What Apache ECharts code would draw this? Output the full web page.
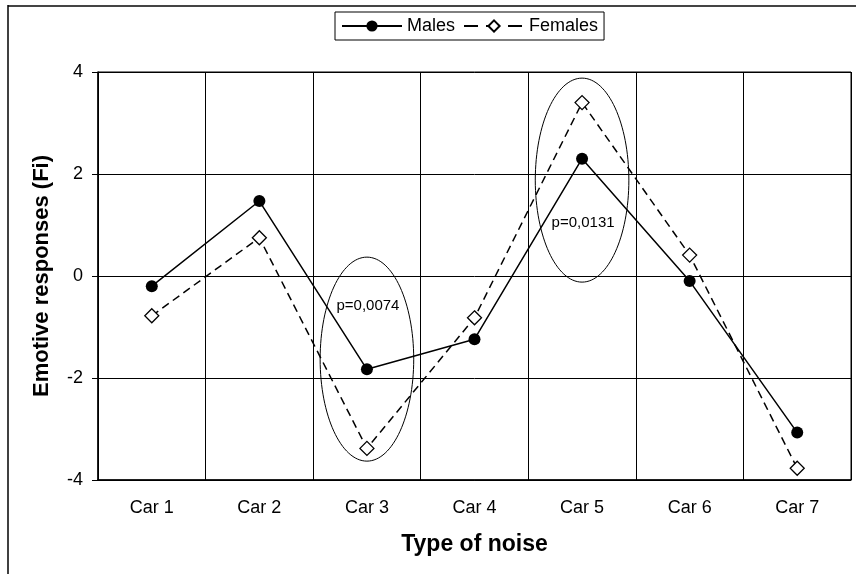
<!DOCTYPE html>
<html>
<head>
<meta charset="utf-8">
<script src="https://cdn.jsdelivr.net/npm/echarts@6/dist/echarts.min.js"></script>
<style>
  html, body { margin: 0; padding: 0; background: #fff; }
  #chart { width: 856px; height: 574px; }
</style>
</head>
<body>
<div id="chart"></div>
<script>
const categories = ["Car 1", "Car 2", "Car 3", "Car 4", "Car 5", "Car 6", "Car 7"];
const males = [-0.2, 1.47, -1.83, -1.24, 2.3, -0.1, -3.07];
const females = [-0.78, 0.75, -3.38, -0.82, 3.4, 0.41, -3.77];

// ellipses marking the significant differences
const ellipseCars = ["Car 3", "Car 5"];
const ellipseMid = [-1.63, 1.88];
const ellipseHalf = [2.0, 2.0];
const pLabels = ["p=0,0074", "p=0,0131"];
const pLabelY = [-0.59, 1.04];

const font = "Liberation Sans, Arial, sans-serif";
const chart = echarts.init(document.getElementById("chart"));

chart.setOption({
  animation: false,
  textStyle: { fontFamily: font },
  graphic: [
    // outer frame (top + left edge)
    { type: "line", shape: { x1: 8, y1: 6, x2: 856, y2: 6 }, style: { stroke: "#444", lineWidth: 2 } },
    { type: "line", shape: { x1: 8, y1: 5, x2: 8, y2: 574 }, style: { stroke: "#000", lineWidth: 1.5 } },
  ],
  legend: {
    top: 12,
    left: 335,
    padding: [5, 6],
    itemWidth: 60,
    itemHeight: 14,
    itemGap: 8,
    borderColor: "#000",
    borderWidth: 1,
    backgroundColor: "#fff",
    textStyle: { fontSize: 18, color: "#000", fontFamily: font },
    data: [
      { name: "Males" },
      { name: "Females", lineStyle: { type: [14, 8] } },
    ],
  },
  grid: {
    left: 98,
    right: 5,
    top: 72,
    bottom: 94,
    show: true,
    borderColor: "#000",
    borderWidth: 1,
  },
  xAxis: {
    type: "category",
    data: categories,
    boundaryGap: true,
    axisTick: { show: false },
    axisLine: { onZero: false, lineStyle: { color: "#000", width: 1.5 } },
    splitLine: { show: true, lineStyle: { color: "#000", width: 1 } },
    axisLabel: { fontSize: 18, color: "#000", margin: 19 },
    name: "Type of noise",
    nameLocation: "middle",
    nameGap: 53,
    nameTextStyle: { fontSize: 23, fontWeight: "bold", color: "#000" },
  },
  yAxis: {
    type: "value",
    min: -4,
    max: 4,
    interval: 2,
    axisLine: { show: true, lineStyle: { color: "#000", width: 1.5 } },
    axisTick: { show: true, length: 6, lineStyle: { color: "#000" } },
    splitLine: { show: true, lineStyle: { color: "#000", width: 1 } },
    axisLabel: { fontSize: 18, color: "#000", margin: 15 },
    name: "Emotive responses (Fi)",
    nameLocation: "middle",
    nameGap: 45,
    nameTextStyle: { fontSize: 22, fontWeight: "bold", color: "#000" },
  },
  series: [
    {
      name: "Males",
      type: "line",
      data: males,
      symbol: "circle",
      symbolSize: 12,
      lineStyle: { color: "#000", width: 1.5 },
      itemStyle: { color: "#000" },
      z: 3,
    },
    {
      name: "Females",
      type: "line",
      data: females,
      symbol: "diamond",
      symbolSize: 14,
      lineStyle: { color: "#000", width: 1.5, type: [8, 5] },
      itemStyle: { color: "#fff", borderColor: "#000", borderWidth: 1.3 },
      z: 4,
    },
    {
      type: "custom",
      silent: true,
      data: ellipseCars.map((c, i) => [c, ellipseMid[i], ellipseHalf[i], pLabelY[i]]),
      renderItem: function (params, api) {
        const center = api.coord([api.value(0), api.value(1)]);
        const top = api.coord([api.value(0), api.value(1) + api.value(2)]);
        const labelPt = api.coord([api.value(0), api.value(3)]);
        const bandW = api.size([1, 0])[0];
        const ry = center[1] - top[1];
        return {
          type: "group",
          children: [
            {
              type: "ellipse",
              shape: { cx: center[0], cy: center[1], rx: bandW * 0.435, ry: ry },
              style: { fill: null, stroke: "#000", lineWidth: 1 },
            },
            {
              type: "text",
              x: labelPt[0] + 1,
              y: labelPt[1],
              style: {
                text: pLabels[params.dataIndex],
                fontSize: 15,
                fontFamily: font,
                fill: "#000",
                align: "center",
                verticalAlign: "middle",
              },
            },
          ],
        };
      },
      z: 2,
    },
  ],
});
</script>
</body>
</html>
